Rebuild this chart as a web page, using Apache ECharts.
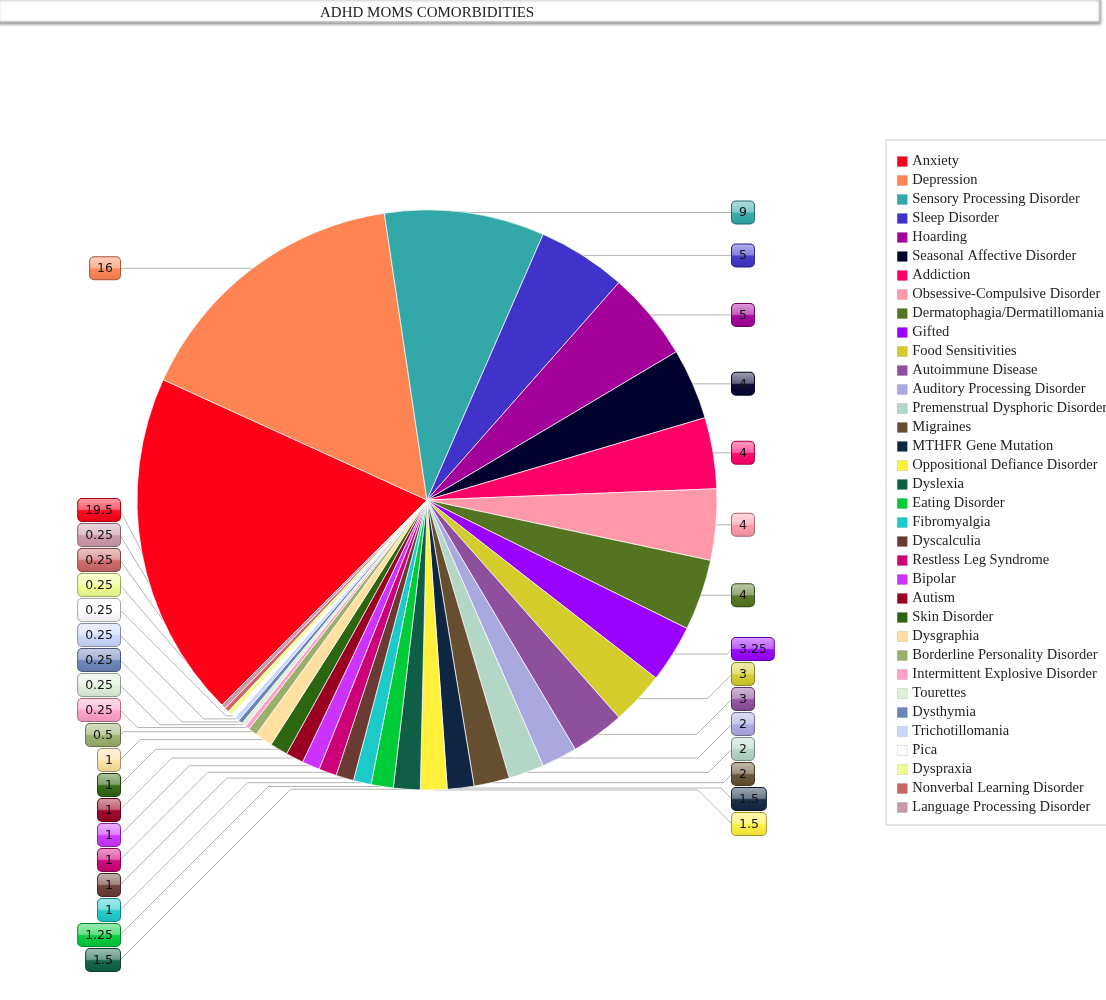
<!DOCTYPE html>
<html><head><meta charset="utf-8">
<script src="https://cdn.jsdelivr.net/npm/echarts@6/dist/echarts.min.js"></script>
<style>html,body{margin:0;padding:0;background:#fff}#c{width:1106px;height:1000px}</style>
</head><body><div id="c"></div>
<script>
const chartTitle = 'ADHD MOMS COMORBIDITIES';
const categories = [
  'Anxiety','Depression','Sensory Processing Disorder','Sleep Disorder','Hoarding',
  'Seasonal Affective Disorder','Addiction','Obsessive-Compulsive Disorder','Dermatophagia/Dermatillomania','Gifted',
  'Food Sensitivities','Autoimmune Disease','Auditory Processing Disorder','Premenstrual Dysphoric Disorder','Migraines',
  'MTHFR Gene Mutation','Oppositional Defiance Disorder','Dyslexia','Eating Disorder','Fibromyalgia',
  'Dyscalculia','Restless Leg Syndrome','Bipolar','Autism','Skin Disorder',
  'Dysgraphia','Borderline Personality Disorder','Intermittent Explosive Disorder','Tourettes','Dysthymia',
  'Trichotillomania','Pica','Dyspraxia','Nonverbal Learning Disorder','Language Processing Disorder'
];
const values = [
  19.5, 16, 9, 5, 5,
  4, 4, 4, 4, 3.25,
  3, 3, 2, 2, 2,
  1.5, 1.5, 1.5, 1.25, 1,
  1, 1, 1, 1, 1,
  1, 0.5, 0.25, 0.25, 0.25,
  0.25, 0.25, 0.25, 0.25, 0.25
];
const colors = [
  '#fe0018','#fe8454','#33a8a8','#3f33c9','#a3009a',
  '#02022e','#ff0066','#ff98a8','#537421','#9900ff',
  '#d4cc2a','#8e4f9c','#a9a9e0','#b3d6c6','#654f30',
  '#0f2642','#fff03c','#0e5f45','#00cc38','#1ccaca',
  '#6b3a33','#cc0077','#cc33ff','#990022','#2d6610',
  '#ffe0a0','#9aaf6a','#ffa0c8','#dff0d8','#6a84b8',
  '#cad8ff','#ffffff','#f0ff90','#cc6666','#cc99aa'
];

const CX = 427, CY = 500, R = 290, START = 225;
const LEFT_X = 120, RIGHT_X = 732, STEP = 25;
const LEFT_BOTTOM = 960, RIGHT_BOTTOM = 824;

function hex2rgb(h){h=h.replace('#','');return [0,2,4].map(k=>parseInt(h.substr(k,2),16));}
function mix(h, t, a){const c=hex2rgb(h), d=t==='w'?[255,255,255]:[0,0,0];
  return 'rgb('+c.map((v,k)=>Math.round(v+(d[k]-v)*a)).join(',')+')';}
function gloss(h){
  return new echarts.graphic.LinearGradient(0,0,0,1,[
    {offset:0,color:mix(h,'w',0.62)},
    {offset:0.47,color:mix(h,'w',0.38)},
    {offset:0.53,color:mix(h,'w',0.05)},
    {offset:1,color:mix(h,'b',0.08)}
  ]);
}

// label placement: natural y at slice mid-angle, push down, then clamp to bottom
function computeLabelLayout(){
  const total = values.reduce((a,b)=>a+b,0);
  let ang = START;
  const items = values.map((v,i)=>{
    const span = v/total*360, mid = ang - span/2; ang -= span;
    const rad = mid*Math.PI/180;
    const x = CX + R*Math.cos(rad), y = CY - R*Math.sin(rad);
    return {i, x, y, left: x < CX};
  });
  const res = {};
  [true,false].forEach(side=>{
    const list = items.filter(d=>d.left===side).sort((a,b)=>a.y-b.y);
    const ys = [];
    list.forEach((d,k)=>{ ys[k] = k===0 ? d.y : Math.max(d.y, ys[k-1]+STEP); });
    const bottom = side ? LEFT_BOTTOM : RIGHT_BOTTOM;
    for (let k=list.length-1;k>=0;k--){
      const lim = k===list.length-1 ? bottom : ys[k+1]-STEP;
      ys[k] = Math.min(ys[k], lim);
    }
    list.forEach((d,k)=>{ res[d.i] = {ax:d.x, ay:d.y, ly:ys[k], left:side}; });
  });
  return res;
}
const labelPos = computeLabelLayout();

const chart = echarts.init(document.getElementById('c'));
chart.setOption({
  animation:false,
  backgroundColor:'#fff',
  graphic:[{type:'rect', shape:{x:-2,y:-2,width:1102,height:24},
    style:{fill:'#fff',stroke:'#bcbcbc',lineWidth:1.5,shadowBlur:3,shadowOffsetY:1.5,shadowColor:'rgba(0,0,0,0.4)'}, z:0}],
  title:{text:chartTitle, left:320, top:6, padding:0,
    textStyle:{fontFamily:'Liberation Serif',fontSize:15,fontWeight:'normal',color:'#222'}},
  legend:{orient:'vertical', left:886, top:140, padding:[12,10,8,11], itemGap:0,
    itemWidth:10, itemHeight:10, icon:'rect', selectedMode:false,
    borderColor:'#c8c8c8', borderWidth:1,
    itemStyle:{borderWidth:0.6,borderColor:'rgba(0,0,0,0.18)'},
    textStyle:{fontFamily:'Liberation Serif',fontSize:14.5,color:'#222',lineHeight:19},
    data:categories},
  series:[{
    type:'pie', center:[CX,CY], radius:R, startAngle:START, clockwise:true,
    avoidLabelOverlap:false,
    emphasis:{scale:false},
    itemStyle:{borderColor:'#fff',borderWidth:0.7},
    label:{show:true, position:'outside', formatter:'{a|{c}}'},
    labelLine:{show:true,length:4,length2:4,smooth:false,lineStyle:{color:'#b4b4b4',width:1}},
    labelLayout:function(p){
      const L = labelPos[p.dataIndex];
      let ax = L.ax, ay = L.ay;
      if (p.labelLinePoints && p.labelLinePoints[0]) { ax = p.labelLinePoints[0][0]; ay = p.labelLinePoints[0][1]; }
      const ex = L.left ? LEFT_X : RIGHT_X;
      const dy = Math.abs(L.ly - ay);
      let elbowX = L.left ? ex + dy : ex - dy;
      if (L.left ? elbowX > ax : elbowX < ax) elbowX = ax;
      return {x:ex, y:L.ly, align:L.left?'right':'left', verticalAlign:'middle',
        labelLinePoints:[[ax,ay],[elbowX,ay],[ex,L.ly]]};
    },
    data:categories.map((n,i)=>({name:n, value:values[i], itemStyle:{color:colors[i]},
      label:{rich:{a:{fontFamily:'DejaVu Sans',fontSize:12.5,color:'#111',
        padding:[5,7,4,7],borderRadius:4,borderWidth:1,borderColor:mix(colors[i],'b',0.35),
        backgroundColor:gloss(colors[i]),lineHeight:22}}}}))
  }]
});
</script></body></html>
